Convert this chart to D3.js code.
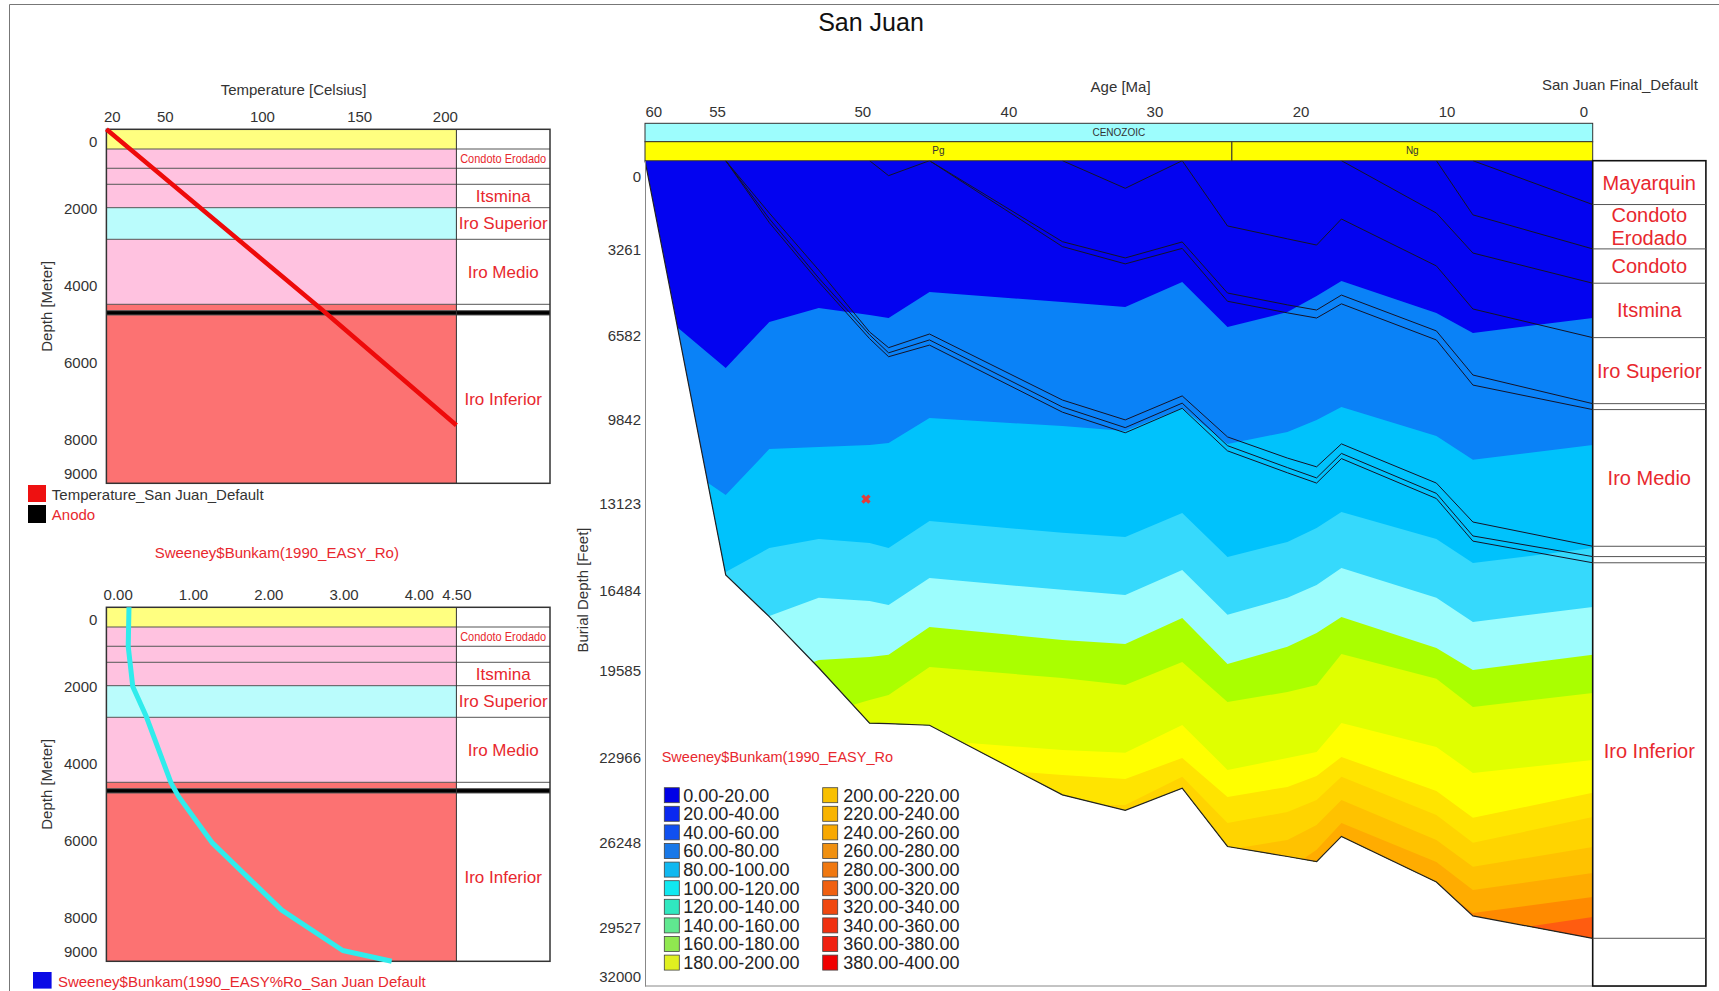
<!DOCTYPE html>
<html>
<head>
<meta charset="utf-8">
<title>San Juan</title>
<script src="https://cdnjs.cloudflare.com/ajax/libs/d3/7.8.5/d3.min.js"></script>
<style>
  body { margin: 0; background: #fff; }
  svg text { font-family: "Liberation Sans", Arial, sans-serif; }
</style>
</head>
<body>
<div id="chart"></div>
<script>
// ---------------- data ----------------
const chartTitle = 'San Juan';

// well column, present day (meters)
const wellUnits = ['Mayarquin', 'Condoto Erodado', 'Condoto', 'Itsmina', 'Iro Superior', 'Iro Medio', 'Iro Medio base', 'Anodo', 'Iro Inferior'];
const wellTops = [0, 512, 1013, 1429, 2037, 2859, 4548, 4714, 4826];
const wellBottom = 9200;
const wellLabelled = ['Condoto Erodado', 'Itsmina', 'Iro Superior', 'Iro Medio', 'Iro Inferior'];
const depthTicks = [0, 2000, 4000, 6000, 8000, 9000];

const tempTicks = [20, 50, 100, 150, 200];
const tempValues = [20, 130, 200];
const tempDepths = [0, 4650, 7690];

const roTicks = [0, 1, 2, 3, 4, 4.5];
const roValues = [0.15, 0.14, 0.20, 0.38, 0.71, 0.81, 1.26, 2.18, 2.99, 3.64];
const roDepths = [0, 1020, 2060, 2840, 4570, 4920, 6130, 7870, 8920, 9200];

// burial history (age in Ma, depth in feet)
const ageNodes = [60, 54.7, 53.2, 51.5, 49.5, 48.2, 45.4, 36.3, 32.0, 28.1, 25.0, 20.9, 18.9, 17.2, 10.7, 8.2, 0];
const ageTicks = [60, 55, 50, 40, 30, 20, 10, 0];
const burialTicks = [0, 3261, 6582, 9842, 13123, 16484, 19585, 22966, 26248, 29527, 32000];
const burialMax = 32000;

const _ = null;
const mayarquinBase      = [_, _, _, _, _, _, _, _, _, _, _, _, _, _, _, 0, 1700];
const condotoErodadoBase = [_, _, _, _, _, _, _, _, _, _, _, _, _, _, 0, 2100, 3420];
const condotoBase        = [_, _, _, _, _, _, _, _, _, _, _, _, _, 0, 2030, 3580, 4750];
const itsminaBase        = [_, _, _, _, _, _, _, _, _, 0, 2530, 3030, 3270, 2260, 4080, 5750, 6860];
const iroSuperiorBase    = [_, _, _, _, _, _, 0, 3140, 3770, 3150, 5130, 5590, 5790, 5210, 6600, 8310, 9420];
const iroSuperiorThin    = [_, _, _, _, _, _, 0, 3330, 4000, 3400, 5450, 5900, 6100, 5550, 6950, 8700, 9650];
const iroMedioBase       = [_, 0, 2030, 4240, 6640, 7250, 6720, 9280, 10050, 9120, 10710, 11530, 11870, 10980, 12500, 14010, 14950];
const iroMedioThin       = [_, 0, 2250, 4550, 6750, 7450, 6950, 9550, 10350, 9400, 11050, 11900, 12300, 11350, 12900, 14550, 15350];
const anodoBase          = [_, 0, 2400, 4700, 6900, 7600, 7150, 9750, 10550, 9600, 11250, 12100, 12500, 11550, 13100, 14750, 15590];
const iroInferiorBase    = [0, 16060, 17680, 19660, 21810, 21830, 21890, 24590, 25190, 24330, 26590, 26980, 27180, 26200, 27970, 29280, 30150];
const erodedUnitA        = [_, _, _, _, 0, 580, 0, _, _, _, _, _, _, _, _, _, _];
const erodedUnitB        = [_, _, _, _, _, _, _, 0, 1070, 0, _, _, _, _, _, _, _];

const columnNames = ['Mayarquin', 'Condoto\nErodado', 'Condoto', 'Itsmina', 'Iro Superior', '', 'Iro Medio', '', '', 'Iro Inferior'];
const columnHorizons = [mayarquinBase, condotoErodadoBase, condotoBase, itsminaBase, iroSuperiorBase,
                        iroSuperiorThin, iroMedioBase, iroMedioThin, anodoBase, iroInferiorBase];

// maturity / temperature class boundaries through time (feet)
const classBound1  = [5400, 8040, 6250, 5710, 5980, 6100, 5090, 5480, 5670, 4700, 6450, 5870, 5250, 4660, 5910, 6680, 6100];
const classBound2  = [10830, 12960, 11180, 11100, 11020, 10950, 9980, 10290, 10480, 9590, 10980, 10520, 10050, 9550, 10670, 11600, 11020];
const classBound3  = [13930, 15950, 15020, 14670, 14820, 15020, 13970, 14430, 14590, 13660, 15370, 14780, 14240, 13620, 14670, 15600, 15020];
const classBound4  = [15480, 17810, 17650, 16950, 17070, 17230, 16180, 16640, 16840, 15870, 17610, 16950, 16450, 15790, 16950, 17890, 17300];
const classBound5  = [18580, 20910, 20130, 19360, 19240, 19160, 18080, 18580, 18740, 17730, 19510, 18850, 18310, 17690, 18890, 19750, 19160];
const classBound6  = [20910, 23240, 22460, 21490, 20910, 20720, 19630, 20060, 20330, 19440, 20990, 20600, 20330, 19130, 20090, 21180, 20640];
const classBound7  = [23240, 24790, 24400, 24010, 23620, 23430, 22460, 22850, 22960, 21880, 23620, 23160, 22930, 21800, 22730, 23740, 23240];
const classBound8  = [24790, 26340, 25950, 25560, 25170, 24790, 23430, 23820, 23970, 23160, 24670, 24280, 23860, 23120, 24440, 25480, 24510];
const classBound9  = [26340, 27890, 27500, 27110, 26730, 26340, 24790, 24980, 24980, 23890, 25680, 25250, 24790, 23890, 25370, 26450, 25450];
const classBound10 = [27890, 29440, 29050, 28660, 28280, 27890, 26340, 26340, 26140, 24980, 26720, 26340, 25760, 24790, 26340, 27380, 26610];
const classBound11 = [29440, 30990, 30600, 30210, 29830, 29440, 27890, 27690, 27310, 26140, 27890, 27500, 26720, 25680, 27190, 28280, 27620];
const classBound12 = [31000, 32000, 32000, 32000, 31500, 31000, 29500, 29000, 28500, 27500, 29000, 28700, 28000, 26720, 28080, 29170, 28550];
const classBound13 = [32000, 32000, 32000, 32000, 32000, 32000, 32000, 32000, 32000, 32000, 32000, 32000, 29500, 28000, 29050, 30020, 29320];

const calibAges = [49.75];
const calibDepths = [13120];

const eraNames = ['CENOZOIC'];
const eraStart = [60];
const eraEnd = [0];
const periodNames = ['Pg', 'Ng'];
const periodStart = [60, 24.7];
const periodEnd = [24.7, 0];

const legendTitle = 'Sweeney$Bunkam(1990_EASY_Ro';
const roClassLabels = ['0.00-20.00', '20.00-40.00', '40.00-60.00', '60.00-80.00', '80.00-100.00',
  '100.00-120.00', '120.00-140.00', '140.00-160.00', '160.00-180.00', '180.00-200.00',
  '200.00-220.00', '220.00-240.00', '240.00-260.00', '260.00-280.00', '280.00-300.00',
  '300.00-320.00', '320.00-340.00', '340.00-360.00', '360.00-380.00', '380.00-400.00'];

// ---------------- styles ----------------
const red = '#e8282e';
const textGrey = '#333';
const unitFill = {
  'Mayarquin': '#ffff80', 'Condoto Erodado': '#ffc2e0', 'Condoto': '#ffc2e0', 'Itsmina': '#ffc2e0',
  'Iro Superior': '#bafcfc', 'Iro Medio': '#ffc2e0', 'Iro Medio base': '#fc7272', 'Anodo': '#000',
  'Iro Inferior': '#fc7272'
};
const bandFill = ['#0303f0', '#0a82f7', '#00c2fc', '#36d9fc', '#9cfdfd', '#aaff00', '#e0ff00',
  '#ffff00', '#ffe400', '#ffd400', '#ffc200', '#ffac00', '#ff8a00', '#ff5c10'];
const classFill = ['#0000e6', '#0a28f0', '#1050f0', '#1878e8', '#10b8f0', '#10e8f0', '#30e8c0', '#60e890',
  '#90e850', '#e0f020', '#f8c000', '#f8b400', '#f8a800', '#f09010', '#f07810', '#f06010', '#f04810',
  '#f03010', '#f02010', '#f00000'];

// ---------------- drawing ----------------
const W = 1719, H = 991;
const svg = d3.select('#chart').append('svg').attr('width', W).attr('height', H);

svg.append('path').attr('d', 'M9.5,991V4.5H1719').attr('fill', 'none').attr('stroke', '#777');

svg.append('text')
  .attr('x', 871).attr('y', 31).attr('text-anchor', 'middle')
  .attr('font-size', 25).attr('fill', '#111')
  .text(chartTitle);

// ---- well panels (left)
const wellX0 = 106.4, wellX1 = 456.4, wellX2 = 550, wellH = 354;

function wellPanel(top, x, ticks, fmt, heading, headingX, headingY, headingFill, edgeLabels) {
  const y = d3.scaleLinear().domain([0, wellBottom]).range([top, top + wellH]);
  const g = svg.append('g');
  const layers = wellUnits.map((unit, i) => ({
    unit,
    top: wellTops[i],
    base: i + 1 < wellTops.length ? wellTops[i + 1] : wellBottom
  }));

  g.selectAll('.layer')
    .data(layers)
    .enter()
    .append('rect')
    .attr('x', wellX0)
    .attr('y', d => y(d.top))
    .attr('width', d => (d.unit === 'Anodo' ? wellX2 : wellX1) - wellX0)
    .attr('height', d => y(d.base) - y(d.top))
    .attr('fill', d => unitFill[d.unit]);

  g.selectAll('.bound')
    .data(wellTops.slice(1))
    .enter()
    .append('line')
    .attr('x1', wellX0).attr('x2', wellX2)
    .attr('y1', d => y(d)).attr('y2', d => y(d))
    .attr('stroke', '#555');

  g.append('line')
    .attr('x1', wellX1).attr('x2', wellX1).attr('y1', top).attr('y2', top + wellH)
    .attr('stroke', '#333');
  g.append('rect')
    .attr('x', wellX0).attr('y', top).attr('width', wellX2 - wellX0).attr('height', wellH)
    .attr('fill', 'none').attr('stroke', '#333').attr('stroke-width', 1.5);

  // unit names
  const named = layers.filter(d => wellLabelled.includes(d.unit));
  g.selectAll('.unit-name')
    .data(named)
    .enter()
    .append('text')
    .attr('x', (wellX1 + wellX2) / 2)
    .attr('y', d => (y(d.top) + y(d.base)) / 2)
    .attr('dy', '0.35em')
    .attr('text-anchor', 'middle')
    .attr('fill', red)
    .attr('font-size', d => d.unit === 'Condoto Erodado' ? 13 : 17)
    .attr('textLength', d => d.unit === 'Condoto Erodado' ? 86 : null)
    .attr('lengthAdjust', 'spacingAndGlyphs')
    .text(d => d.unit);

  // top axis
  const gx = g.append('g')
    .attr('transform', 'translate(0,' + (top - 7.3) + ')')
    .call(d3.axisTop(x).tickValues(ticks).tickFormat(fmt).tickSize(0).tickPadding(0));
  gx.select('.domain').remove();
  gx.attr('font-size', 15);
  gx.selectAll('text').attr('fill', textGrey);
  if (edgeLabels) {
    const t = gx.selectAll('text').nodes();
    d3.select(t[0]).attr('text-anchor', 'start').attr('x', -3);
    d3.select(t[t.length - 1]).attr('text-anchor', 'end').attr('x', 1);
  }

  // depth axis
  const gy = g.append('g')
    .attr('transform', 'translate(' + wellX0 + ',0)')
    .call(d3.axisLeft(y).tickValues(depthTicks).tickFormat(d3.format('d')).tickSize(0).tickPadding(9));
  gy.select('.domain').remove();
  gy.attr('font-size', 15);
  gy.selectAll('text')
    .attr('fill', textGrey)
    .attr('y', (d, i, n) => i === 0 ? 12 : (i === n.length - 1 ? -2 : 2.5));

  g.append('text')
    .attr('transform', 'translate(46.4,' + (top + wellH / 2) + ') rotate(-90)')
    .attr('text-anchor', 'middle').attr('dy', '0.35em')
    .attr('font-size', 15).attr('fill', textGrey)
    .text('Depth [Meter]');

  g.append('text')
    .attr('x', headingX).attr('y', headingY).attr('text-anchor', 'middle')
    .attr('font-size', 15).attr('fill', headingFill)
    .text(heading);

  return { g, y };
}

// temperature panel
const xTemp = d3.scaleLinear().domain([20, 200]).range([wellX0, wellX1]);
const tempPanel = wellPanel(129.3, xTemp, tempTicks, d3.format('d'), 'Temperature [Celsius]', 293.6, 95.4, textGrey, true);
tempPanel.g.append('path')
  .attr('d', d3.line().x((d, i) => xTemp(tempValues[i])).y(d => tempPanel.y(d))(tempDepths))
  .attr('fill', 'none').attr('stroke', '#ee0a0a').attr('stroke-width', 4.5);

svg.append('rect').attr('x', 28).attr('y', 485).attr('width', 18).attr('height', 17).attr('fill', '#ee1111');
svg.append('rect').attr('x', 28).attr('y', 505).attr('width', 18).attr('height', 18).attr('fill', '#000');
svg.append('text').attr('x', 51.8).attr('y', 500.3).attr('font-size', 15).attr('fill', textGrey)
  .text('Temperature_San Juan_Default');
svg.append('text').attr('x', 51.8).attr('y', 520).attr('font-size', 15).attr('fill', red).text('Anodo');

// vitrinite reflectance panel
const xRo = d3.scaleLinear().domain([-0.15, 4.5]).range([wellX0, wellX1]);
const roPanel = wellPanel(607.3, xRo, roTicks, d3.format('.2f'), 'Sweeney$Bunkam(1990_EASY_Ro)', 276.8, 558, red, false);
roPanel.g.append('path')
  .attr('d', d3.line().x((d, i) => xRo(roValues[i])).y(d => roPanel.y(d))(roDepths))
  .attr('fill', 'none').attr('stroke', '#30ecec').attr('stroke-width', 5).attr('stroke-linejoin', 'round');

svg.append('rect').attr('x', 33).attr('y', 972).attr('width', 18.6).attr('height', 16.6).attr('fill', '#0a0ae6');
svg.append('text').attr('x', 57.9).attr('y', 987).attr('font-size', 15).attr('fill', red)
  .text('Sweeney$Bunkam(1990_EASY%Ro_San Juan Default');

// ---- burial history (right)
const bx0 = 645, bx1 = 1592.7, by0 = 160.7, by1 = 986;
const xAge = d3.scaleLinear().domain([60, 55, 50, 0]).range([bx0, bx0 + 72, bx0 + 217.3, bx1]);
const yDepth = d3.scaleLinear().domain([0, burialMax]).range([by0, by1]);

const defs = svg.append('defs');
const basinArea = d3.area()
  .x((d, i) => xAge(ageNodes[i]))
  .y0(yDepth(0))
  .y1(d => yDepth(d));
defs.append('clipPath').attr('id', 'basin')
  .append('path').attr('d', basinArea(iroInferiorBase));

const classBounds = [ageNodes.map(() => 0), classBound1, classBound2, classBound3, classBound4, classBound5,
  classBound6, classBound7, classBound8, classBound9, classBound10, classBound11, classBound12, classBound13];

const bandArea = d3.area()
  .x((d, i) => xAge(ageNodes[i]))
  .y0(d => yDepth(d))
  .y1(yDepth(burialMax));

svg.append('g')
  .attr('clip-path', 'url(#basin)')
  .selectAll('path')
  .data(classBounds)
  .enter()
  .append('path')
  .attr('d', d => bandArea(d))
  .attr('fill', (d, i) => bandFill[i]);

const horizonLine = d3.line()
  .defined(d => d !== null)
  .x((d, i) => xAge(ageNodes[i]))
  .y(d => yDepth(d));

const horizons = [mayarquinBase, condotoErodadoBase, condotoBase, itsminaBase, iroSuperiorBase, iroSuperiorThin,
  iroMedioBase, iroMedioThin, anodoBase, erodedUnitA, erodedUnitB];
svg.append('g')
  .selectAll('path')
  .data(horizons)
  .enter()
  .append('path')
  .attr('d', d => horizonLine(d))
  .attr('fill', 'none')
  .attr('stroke', '#141428')
  .attr('stroke-width', 1);

svg.append('path')
  .attr('d', horizonLine(iroInferiorBase))
  .attr('fill', 'none').attr('stroke', '#222').attr('stroke-width', 1.2);

// calibration marker
svg.selectAll('.calib')
  .data(calibAges)
  .enter()
  .append('path')
  .attr('d', d3.symbol(d3.symbolCross).size(55))
  .attr('transform', (d, i) => 'translate(' + xAge(d) + ',' + yDepth(calibDepths[i]) + ') rotate(45)')
  .attr('fill', '#e23c3c');

// stratigraphic bars
const barG = svg.append('g');
barG.selectAll('.era')
  .data(eraNames)
  .enter()
  .append('rect')
  .attr('x', (d, i) => xAge(eraStart[i]))
  .attr('width', (d, i) => xAge(eraEnd[i]) - xAge(eraStart[i]))
  .attr('y', 123.3).attr('height', 18.4)
  .attr('fill', '#9dfdfd').attr('stroke', '#333').attr('stroke-width', 1);
barG.selectAll('.era-name')
  .data(eraNames)
  .enter()
  .append('text')
  .attr('x', (d, i) => (xAge(eraStart[i]) + xAge(eraEnd[i])) / 2)
  .attr('y', 132.5).attr('dy', '0.35em')
  .attr('text-anchor', 'middle').attr('font-size', 10).attr('fill', textGrey)
  .text(d => d);
barG.selectAll('.period')
  .data(periodNames)
  .enter()
  .append('rect')
  .attr('x', (d, i) => xAge(periodStart[i]))
  .attr('width', (d, i) => xAge(periodEnd[i]) - xAge(periodStart[i]))
  .attr('y', 141.7).attr('height', 19)
  .attr('fill', '#ffff00').attr('stroke', '#333').attr('stroke-width', 1);
barG.selectAll('.period-name')
  .data(periodNames)
  .enter()
  .append('text')
  .attr('x', (d, i) => (xAge(periodStart[i]) + xAge(periodEnd[i])) / 2)
  .attr('y', 150.5).attr('dy', '0.35em')
  .attr('text-anchor', 'middle').attr('font-size', 10).attr('fill', textGrey)
  .text(d => d);

// age axis
const ageAxis = svg.append('g')
  .attr('transform', 'translate(0,117)')
  .call(d3.axisTop(xAge).tickValues(ageTicks).tickFormat(d3.format('d')).tickSize(0).tickPadding(0));
ageAxis.select('.domain').remove();
ageAxis.attr('font-size', 15);
ageAxis.selectAll('text').attr('fill', textGrey);
{
  const t = ageAxis.selectAll('text').nodes();
  d3.select(t[0]).attr('text-anchor', 'start');
  d3.select(t[t.length - 1]).attr('text-anchor', 'end').attr('x', -5);
}
svg.append('text').attr('x', 1120.6).attr('y', 92).attr('text-anchor', 'middle')
  .attr('font-size', 15).attr('fill', textGrey).text('Age [Ma]');
svg.append('text').attr('x', 1619.9).attr('y', 90.4).attr('text-anchor', 'middle')
  .attr('font-size', 15).attr('fill', textGrey).text('San Juan Final_Default');

// depth axis
const depthAxis = svg.append('g')
  .attr('transform', 'translate(' + bx0 + ',0)')
  .call(d3.axisLeft(yDepth).tickValues(burialTicks).tickFormat(d3.format('d')).tickSize(0).tickSizeOuter(0).tickPadding(4));
depthAxis.select('.domain').attr('stroke', '#888');
depthAxis.attr('font-size', 15);
depthAxis.selectAll('text')
  .attr('fill', textGrey)
  .attr('y', (d, i, n) => i === 0 ? 16 : (i === n.length - 1 ? -9 : 5));
svg.append('text')
  .attr('transform', 'translate(583,590) rotate(-90)')
  .attr('text-anchor', 'middle').attr('dy', '0.35em')
  .attr('font-size', 15).attr('fill', textGrey)
  .text('Burial Depth [Feet]');

svg.append('line').attr('x1', bx0).attr('x2', 1705.9).attr('y1', by1).attr('y2', by1)
  .attr('stroke', '#888');

// formation column
const colX1 = 1705.9;
const colBases = columnHorizons.map(h => h[h.length - 1]);
const colTops = [0].concat(colBases.slice(0, -1));
const colG = svg.append('g');
colG.append('rect')
  .attr('x', bx1).attr('y', by0).attr('width', colX1 - bx1).attr('height', by1 - by0)
  .attr('fill', '#fff').attr('stroke', '#111').attr('stroke-width', 1.6);
colG.selectAll('.row')
  .data(colBases)
  .enter()
  .append('line')
  .attr('x1', bx1).attr('x2', colX1)
  .attr('y1', d => yDepth(d)).attr('y2', d => yDepth(d))
  .attr('stroke', '#555');
const colLabels = colG.selectAll('.col-name')
  .data(columnNames)
  .enter()
  .append('text')
  .attr('text-anchor', 'middle')
  .attr('font-size', 20)
  .attr('fill', red)
  .attr('transform', (d, i) => 'translate(' + (bx1 + colX1) / 2 + ',' + (yDepth(colTops[i]) + yDepth(colBases[i])) / 2 + ')');
colLabels.each(function (d) {
  const lines = d.split('\n');
  const sel = d3.select(this);
  lines.forEach((line, k) => {
    sel.append('tspan')
      .attr('x', 0)
      .attr('y', (k - (lines.length - 1) / 2) * 22.7)
      .attr('dy', '0.35em')
      .text(line);
  });
});

// class legend
const legendG = svg.append('g');
legendG.append('text')
  .attr('x', 661.7).attr('y', 762)
  .attr('font-size', 14.5).attr('fill', red)
  .text(legendTitle);
const legendItems = legendG.selectAll('.item')
  .data(roClassLabels)
  .enter()
  .append('g')
  .attr('transform', (d, i) => 'translate(' + (i < 10 ? 664.3 : 822.7) + ',' + (795.2 + (i % 10) * 18.6) + ')');
legendItems.append('rect')
  .attr('x', 0).attr('y', -7.5).attr('width', 15).attr('height', 15)
  .attr('fill', (d, i) => classFill[i])
  .attr('stroke', '#444').attr('stroke-width', 0.8);
legendItems.append('text')
  .attr('x', (d, i) => i < 10 ? 19 : 20.6)
  .attr('dy', '0.36em')
  .attr('font-size', 18)
  .attr('fill', '#222')
  .text(d => d);
</script>
</body>
</html>
